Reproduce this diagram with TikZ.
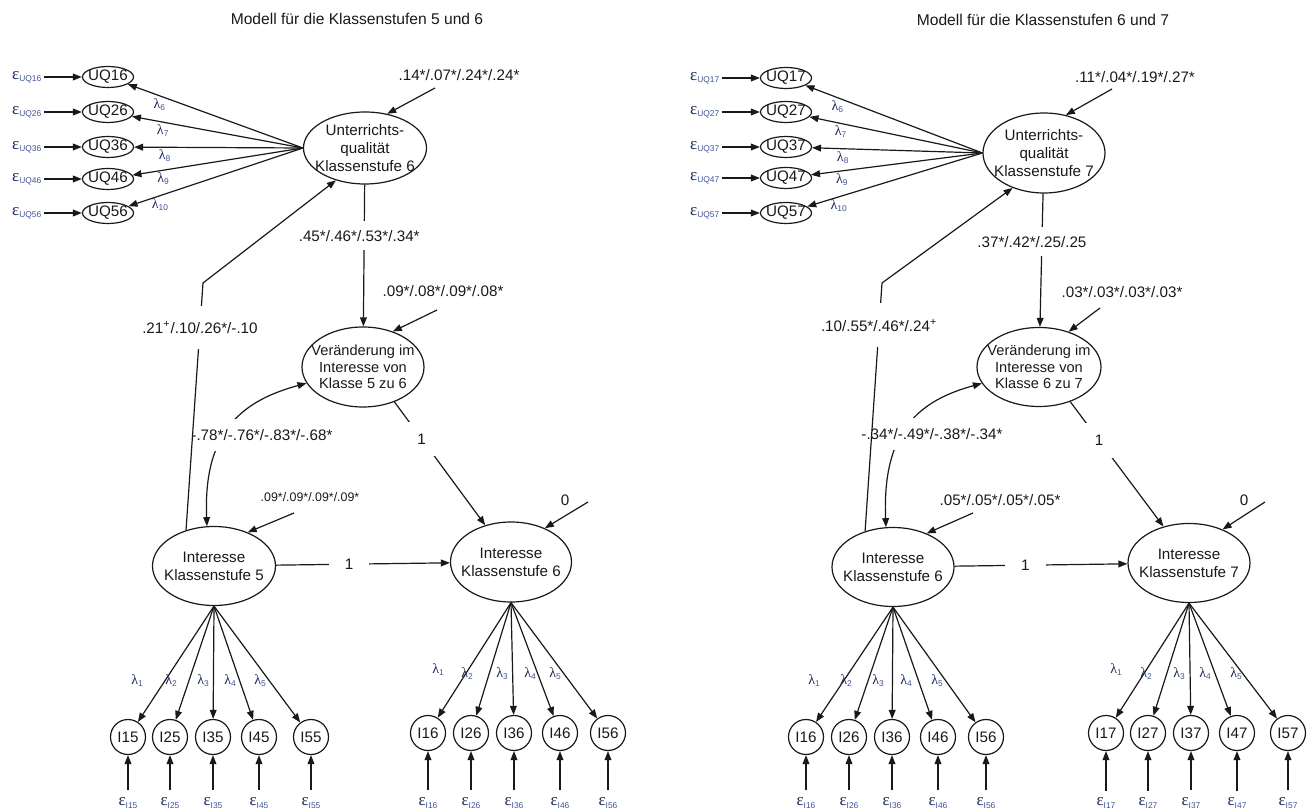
\documentclass[tikz,border=0pt]{standalone}
\usepackage{fontspec}
\setmainfont{Liberation Sans}
\newfontfamily\grkfont{Liberation Serif}
\usepackage{tikz}
\usetikzlibrary{shapes.geometric, arrows.meta, positioning}
\definecolor{ink}{RGB}{25,25,25}
\definecolor{symb}{RGB}{30,38,85}
\definecolor{subs}{RGB}{60,85,150}
\newcommand{\lbl}{\fontsize{7.6}{9}\selectfont}
\newcommand{\lblsmall}{\fontsize{6.2}{7}\selectfont}
\newcommand{\epsl}[1]{{\color{symb}\grkfont\fontsize{8.5}{9}\selectfont ε}{\color{subs}\fontsize{4.2}{5}\selectfont\raisebox{-1.2pt}{#1}}}
\newcommand{\lam}[1]{{\color{symb}\grkfont\fontsize{7}{7}\selectfont λ}{\color{subs}\fontsize{4.2}{5}\selectfont\raisebox{-1pt}{#1}}}

\begin{document}
\begin{tikzpicture}[x=0.5pt,y=-0.5pt,>={Triangle[length=4.5pt,width=3.4pt]},line width=0.6pt,color=ink]
	\tikzset{every node/.style={font=\lbl},
		lat/.style={ellipse,draw,inner xsep=-8pt,inner ysep=-4pt,align=center},
		ind/.style={ellipse,draw,inner sep=-3pt,minimum width=25.5pt,minimum height=10.5pt},
		item/.style={circle,draw,inner sep=0pt,minimum size=17.5pt},
		wlab/.style={fill=white,inner xsep=1pt,inner ysep=4.5pt},
		one/.style={fill=white,inner xsep=8pt,inner ysep=6pt}}
	\useasboundingbox (0,0) rectangle (1312,812);

	% Modell 5/6
	\node[font=\fontsize{7.8}{9}\selectfont] (titleA) at (357,19) {Modell für die Klassenstufen 5 und 6};
	\node[lat,minimum width=61.5pt,minimum height=36pt] (aUQ) at (365,148) {Unterrichts-\\qualität\\Klassenstufe 6};
	\node[lat,minimum width=61pt,minimum height=40pt,font=\fontsize{7.3}{8.3}\selectfont] (aVer) at (363,367) {Veränderung im\\Interesse von\\Klasse 5 zu 6};
	\node[lat,minimum width=61.5pt,minimum height=39.5pt] (aInt5) at (214,566) {Interesse\\Klassenstufe 5};
	\node[lat,minimum width=60.5pt,minimum height=40pt] (aInt6) at (511,562) {Interesse\\Klassenstufe 6};
	\foreach \k/\y/\m in {1/77/6,2/112/7,3/147/8,4/179/9,5/213/10}{
		\node[ind] (uq\k6) at (108,\y) {UQ\k6};
		\node (euq\k6) [left=19pt of uq\k6,inner sep=1pt] {\epsl{UQ\k6}};
		\draw[->] (euq\k6) -- (uq\k6);
		\draw[->] (aUQ.west) -- node[pos=0.82,below,inner sep=1pt] {\lam{\m}} (uq\k6);
	}
	\node (zaUQ) at (459,75) {.14*/.07*/.24*/.24*};
	\coordinate (zaUQs) at (435,88);
	\draw[->] (zaUQs) -- (aUQ.57);
	\draw[->] (aUQ) -- node[wlab,pos=0.36,xshift=-2.5pt] (raUQ) {.45*/.46*/.53*/.34*} (aVer);
	\node (zaVer) at (443,291) {.09*/.08*/.09*/.08*};
	\coordinate (zaVers) at (437,310);
	\draw[->] (zaVers) -- (aVer.50);
	\draw[->] (aVer.-48) -- node[one,pos=0.3] (raVer) {1} (aInt6.125);
	\draw[->] (aInt5) -- node[one,pos=0.42] (raInt) {1} (aInt6);
	\node[font=\lblsmall] (zaInt5) at (310,497) {.09*/.09*/.09*/.09*};
	\coordinate (zaInt5s) at (294,513);
	\draw[->] (zaInt5s) -- (aInt5.45);
	\node (zaInt6) at (565,500) {0};
	\coordinate (zaInt6s) at (588,502);
	\draw[->] (zaInt6s) -- (aInt6.45);
	\draw[<->] (aInt5.100) .. controls +(-4,-97) and +(-62,17) .. (aVer.196);
	\node[wlab,inner ysep=5pt] (kaVer) at (262,435) {-.78*/-.76*/-.83*/-.68*};
	\coordinate (kaUQ) at (203,283);
	\draw[->] (aInt5.128) -- node[wlab,pos=0.82,inner ysep=8pt] (raUQ5) {.21\textsuperscript{+}/.10/.26*/-.10} (kaUQ) -- (aUQ.228);
	\foreach \k/\x/\lx in {1/128/137,2/170/171,3/213/203,4/259/230,5/311/260}{
		\node[item] (ai\k5) at (\x,737) {I\k5};
		\node (eai\k5) at (\x,803) {\epsl{I\k5}};
		\draw[->] (eai\k5) -- (ai\k5);
		\draw[->] (aInt5.south) -- (ai\k5);
		\node (lai\k5) at (\lx,681) {\lam{\k}};
	}
	\foreach \k/\x/\lx/\ly in {1/428/438/670,2/471/467/674,3/514/502/674,4/560/530/674,5/608/555/674}{
		\node[item] (ai\k6) at (\x,733) {I\k6};
		\node (eai\k6) at (\x,803) {\epsl{I\k6}};
		\draw[->] (eai\k6) -- (ai\k6);
		\draw[->] (aInt6.south) -- (ai\k6);
		\node (lai\k6) at (\lx,\ly) {\lam{\k}};
	}

	% Modell 6/7
	\node[font=\fontsize{7.8}{9}\selectfont] (titleB) at (1043,20) {Modell für die Klassenstufen 6 und 7};
	\node[lat,minimum width=61pt,minimum height=40pt] (bUQ) at (1044,153) {Unterrichts-\\qualität\\Klassenstufe 7};
	\node[lat,minimum width=62pt,minimum height=39.5pt,font=\fontsize{7.3}{8.3}\selectfont] (bVer) at (1039,367) {Veränderung im\\Interesse von\\Klasse 6 zu 7};
	\node[lat,minimum width=61pt,minimum height=39.5pt] (bInt6) at (893,567) {Interesse\\Klassenstufe 6};
	\node[lat,minimum width=61pt,minimum height=39.5pt] (bInt7) at (1189,563) {Interesse\\Klassenstufe 7};
	\foreach \k/\y/\m in {1/78/6,2/112/7,3/147/8,4/178/9,5/213/10}{
		\node[ind] (uq\k7) at (786,\y) {UQ\k7};
		\node (euq\k7) [left=19pt of uq\k7,inner sep=1pt] {\epsl{UQ\k7}};
		\draw[->] (euq\k7) -- (uq\k7);
		\draw[->] (bUQ.west) -- node[pos=0.82,below,inner sep=1pt] {\lam{\m}} (uq\k7);
	}
	\node (zbUQ) at (1135,77) {.11*/.04*/.19*/.27*};
	\coordinate (zbUQs) at (1112,89);
	\draw[->] (zbUQs) -- (bUQ.60);
	\draw[->] (bUQ) -- node[wlab,pos=0.36,xshift=-5pt] (rbUQ) {.37*/.42*/.25/.25} (bVer);
	\node (zbVer) at (1122,292) {.03*/.03*/.03*/.03*};
	\coordinate (zbVers) at (1100,308);
	\draw[->] (zbVers) -- (bVer.50);
	\draw[->] (bVer.-48) -- node[one,pos=0.31] (rbVer) {1} (bInt7.125);
	\draw[->] (bInt6) -- node[one,pos=0.41] (rbInt) {1} (bInt7);
	\node (zbInt6) at (1000,500) {.05*/.05*/.05*/.05*};
	\coordinate (zbInt6s) at (973,513);
	\draw[->] (zbInt6s) -- (bInt6.45);
	\node (zbInt7) at (1244,500) {0};
	\coordinate (zbInt7s) at (1265,502);
	\draw[->] (zbInt7s) -- (bInt7.45);
	\draw[<->] (bInt6.100) .. controls +(-4,-97) and +(-62,17) .. (bVer.196);
	\node[wlab,inner ysep=5pt] (kbVer) at (932,434) {-.34*/-.49*/-.38*/-.34*};
	\coordinate (kbUQ) at (882,283);
	\draw[->] (bInt6.128) -- node[wlab,pos=0.83,inner ysep=8pt] (rbUQ6) {.10/.55*/.46*/.24\textsuperscript{+}} (kbUQ) -- (bUQ.228);
	\foreach \k/\x/\lx in {1/806/814,2/849/846,3/892/878,4/938/906,5/986/937}{
		\node[item] (bi\k6) at (\x,737) {I\k6};
		\node (ebi\k6) at (\x,803) {\epsl{I\k6}};
		\draw[->] (ebi\k6) -- (bi\k6);
		\draw[->] (bInt6.south) -- (bi\k6);
		\node (lbi\k6) at (\lx,681) {\lam{\k}};
	}
	\foreach \k/\x/\lx/\ly in {1/1106/1116/670,2/1148/1146/674,3/1191/1179/674,4/1237/1205/674,5/1288/1236/674}{
		\node[item] (bi\k7) at (\x,733) {I\k7};
		\node (ebi\k7) at (\x,803) {\epsl{I\k7}};
		\draw[->] (ebi\k7) -- (bi\k7);
		\draw[->] (bInt7.south) -- (bi\k7);
		\node (lbi\k7) at (\lx,\ly) {\lam{\k}};
	}
\end{tikzpicture}
\end{document}
